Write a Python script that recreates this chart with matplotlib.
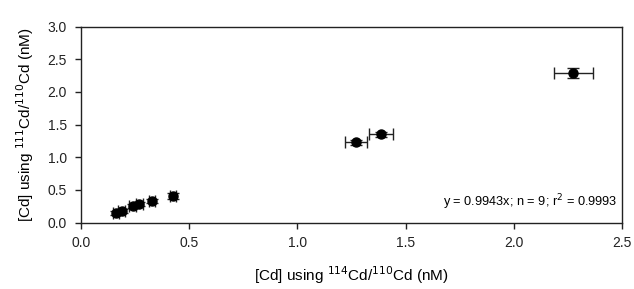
import matplotlib
matplotlib.use("Agg")
import matplotlib.pyplot as plt

plt.rcParams['font.family'] = ['Liberation Sans', 'DejaVu Sans']

x_vals = [0.163, 0.189, 0.240, 0.271, 0.329, 0.425, 1.270, 1.385, 2.274]
y_vals = [0.150, 0.181, 0.253, 0.279, 0.334, 0.406, 1.228, 1.351, 2.294]
x_err = [0.015, 0.015, 0.015, 0.015, 0.015, 0.015, 0.050, 0.055, 0.090]
y_err = [0.03, 0.03, 0.03, 0.03, 0.03, 0.04, 0.04, 0.04, 0.08]

fig = plt.figure(figsize=(6.34, 2.89), dpi=100)
ax = fig.add_axes([0.1273, 0.2301, 0.9815 - 0.1273, 0.9076 - 0.2301])

ax.errorbar(x_vals, y_vals, xerr=x_err, yerr=y_err, fmt='o', color='black',
            ecolor='#222222', elinewidth=1.0, capsize=4, capthick=1.0,
            markersize=6.5)

ax.set_xlim(0, 2.5)
ax.set_ylim(0, 3.0)
ax.set_xticks([0.0, 0.5, 1.0, 1.5, 2.0, 2.5])
ax.set_yticks([0.0, 0.5, 1.0, 1.5, 2.0, 2.5, 3.0])
ax.set_xticklabels(['0.0', '0.5', '1.0', '1.5', '2.0', '2.5'])
ax.set_yticklabels(['0.0', '0.5', '1.0', '1.5', '2.0', '2.5', '3.0'])
ax.tick_params(direction='out', length=4, width=1, labelsize=10, colors='#222222', pad=6)
for s in ax.spines.values():
    s.set_linewidth(1.0)
    s.set_color('#222222')

ax.set_xlabel(r'[Cd] using $^{114}$Cd/$^{110}$Cd (nM)', fontsize=11, labelpad=10)
ax.set_ylabel(r'[Cd] using $^{111}$Cd/$^{110}$Cd (nM)', fontsize=11, labelpad=8)

ax.text(0.992, 0.106, r'y = 0.9943x; n = 9; r$^2$ = 0.9993', transform=ax.transAxes,
        ha='right', va='center', fontsize=9.2)

fig.savefig('out.png', dpi=100)
